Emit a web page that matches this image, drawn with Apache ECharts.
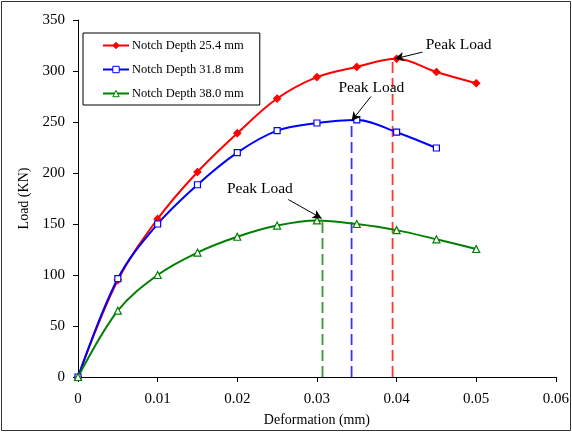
<!DOCTYPE html>
<html><head><meta charset="utf-8">
<script src="https://cdn.jsdelivr.net/npm/echarts@6/dist/echarts.min.js"></script>
<style>html,body{margin:0;padding:0;background:#fff}#c{width:572px;height:432px}</style>
</head><body><div id="c"></div>
<script>
var deformation = [0, 0.005, 0.01, 0.015, 0.02, 0.025, 0.03, 0.035, 0.04, 0.045, 0.05];
var load254 = [0, 95, 155, 201, 239, 273, 294, 304, 312, 299, 288];
var load318 = [0, 96.5, 150, 188.5, 220, 241.5, 249, 252, 240, 224.5];
var load380 = [0, 65, 100, 122, 137.5, 148.5, 153.5, 150, 144, 135, 125.5];
var seriesNames = ['Notch Depth 25.4 mm', 'Notch Depth 31.8 mm', 'Notch Depth 38.0 mm'];
var peakX = [0.0395, 0.03435, 0.0307];
var peakY = [311.5, 252, 156];
var xTicks = ['0', '0.01', '0.02', '0.03', '0.04', '0.05', '0.06'];
var yTicks = ['0', '50', '100', '150', '200', '250', '300', '350'];
var annoText = 'Peak Load';
var arrowFrom = [[0.04325, 318.5], [0.03677, 275], [0.0264, 174]];
var arrowTo = [[0.0398, 312], [0.03435, 251], [0.0306, 155.5]];
var textAt = [[0.04365, 326], [0.0327, 283], [0.0187, 184]];

function pairs(xs, ys) { return ys.map(function (v, i) { return [xs[i], v]; }); }
var colors = ['#FF0000', '#0000FF', '#008000'];
var symbols = ['diamond', 'rect', 'triangle'];
var symSizes = [7, 6, 7];
var datasets = [load254, load318, load380];
var font = 'Liberation Serif';

var series = datasets.map(function (d, i) {
  return {
    name: seriesNames[i], type: 'line', smooth: 0.35,
    data: pairs(deformation, d),
    symbol: symbols[i], symbolSize: symSizes[i], showAllSymbol: true,
    lineStyle: { color: colors[i], width: 2 },
    itemStyle: { color: i === 0 ? colors[i] : '#fff', borderColor: colors[i], borderWidth: 1.2 },
    z: 3
  };
});
peakX.forEach(function (px, i) {
  series.push({
    type: 'line', data: [[px, 0], [px, peakY[i]]], symbol: 'none', silent: true,
    lineStyle: { color: colors[i], width: 1.8, type: [11, 5], opacity: 0.8 }, z: 2,
    markLine: {
      silent: true, symbol: ['none', 'arrow'], symbolSize: [7, 9], animation: false,
      label: { show: false },
      lineStyle: { color: '#000', width: 1, type: 'solid', opacity: 1 },
      data: [[{ coord: arrowFrom[i] }, { coord: arrowTo[i] }]]
    }
  });
});

var chart = echarts.init(document.getElementById('c'));
chart.setOption({
  animation: false,
  backgroundColor: '#fff',
  grid: { left: 78, right: 13, top: 20, bottom: 55, containLabel: false },
  legend: {
    data: seriesNames.map(function (n, i) { return { name: n, itemStyle: { color: i === 0 ? colors[i] : '#fff', borderColor: colors[i], borderWidth: 1 } }; }),
    orient: 'vertical', left: 83, top: 33, itemWidth: 26, itemHeight: 8, itemGap: 9,
    padding: [5, 16, 4, 19], borderColor: '#000', borderWidth: 1,
    textStyle: { fontFamily: font, fontSize: 12.5, color: '#000', padding: [0, 0, 0, -2], lineHeight: 15 }
  },
  xAxis: {
    type: 'value', min: 0, max: 0.06, interval: 0.01,
    name: 'Deformation (mm)', nameLocation: 'middle', nameGap: 36,
    nameTextStyle: { fontFamily: font, fontSize: 14, color: '#000' },
    axisLine: { lineStyle: { color: '#000', width: 1 } },
    axisTick: { show: true, length: 5, lineStyle: { color: '#000' } },
    axisLabel: { fontFamily: font, fontSize: 15, color: '#000', margin: 15,
      formatter: function (v) { return xTicks[Math.round(v / 0.01)]; } },
    splitLine: { show: false }
  },
  yAxis: {
    type: 'value', min: 0, max: 350, interval: 50,
    name: 'Load (KN)', nameLocation: 'middle', nameGap: 46,
    nameTextStyle: { fontFamily: font, fontSize: 14, color: '#000' },
    axisLine: { show: true, lineStyle: { color: '#000', width: 1 } },
    axisTick: { show: true, length: 5, lineStyle: { color: '#000' } },
    axisLabel: { fontFamily: font, fontSize: 15, color: '#000', margin: 13,
      formatter: function (v) { return yTicks[Math.round(v / 50)]; } },
    splitLine: { show: false }
  },
  series: series
});

var g = [{ type: 'rect', shape: { x: 1.5, y: 1.5, width: 569, height: 429 }, style: { fill: 'none', stroke: '#333', lineWidth: 1 }, silent: true }];
textAt.forEach(function (t) {
  var p = chart.convertToPixel({ gridIndex: 0 }, t);
  g.push({ type: 'text', x: p[0], y: p[1], style: { text: annoText, fontFamily: font, fontSize: 15.5, fill: '#000', align: 'left', verticalAlign: 'middle' }, z: 10 });
});
chart.setOption({ graphic: g });
</script></body></html>
